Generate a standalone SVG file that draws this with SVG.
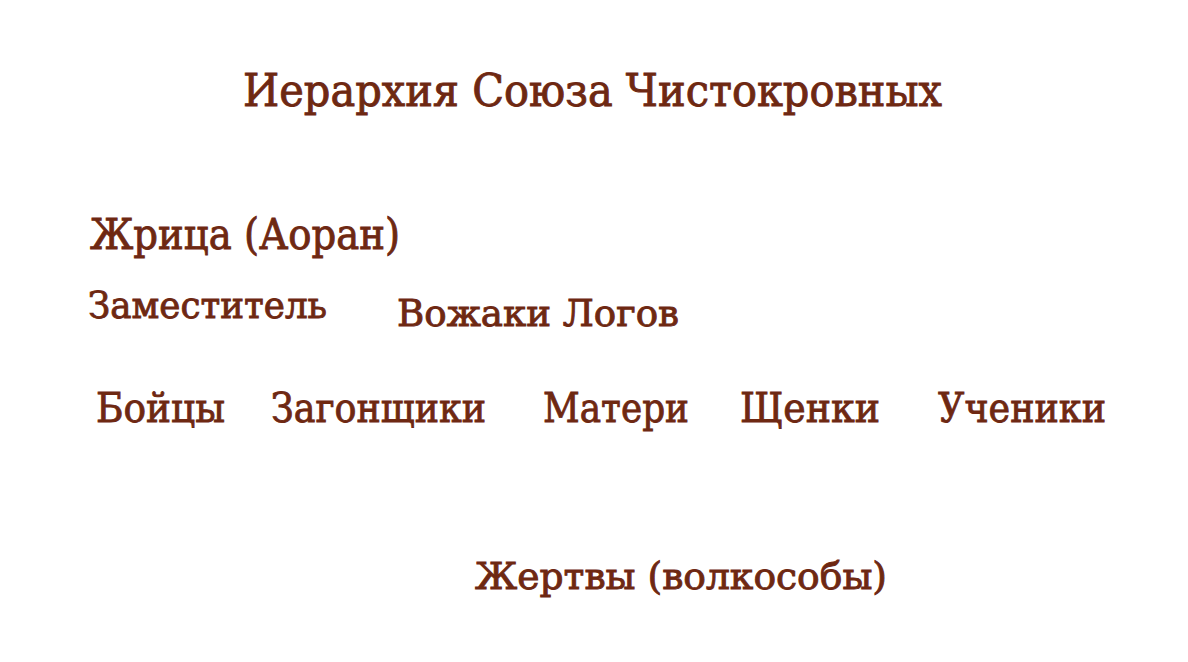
<svg xmlns="http://www.w3.org/2000/svg" width="1188" height="662" viewBox="0 0 1188 662">
<style>
.t{font-family:"DejaVu Serif","Liberation Serif",serif;fill:#6e2812;stroke:#6e2812;stroke-width:0.9;}
</style>
<rect width="1188" height="662" fill="#ffffff"/>
<g id="title"><text class="t" x="243" y="106" font-size="44" textLength="699" lengthAdjust="spacingAndGlyphs">Иерархия Союза Чистокровных</text></g>
<g id="node-priestess"><text class="t" x="90" y="249" font-size="42" textLength="310" lengthAdjust="spacingAndGlyphs">Жрица (Аоран)</text></g>
<g id="node-deputy"><text class="t" x="88" y="318" font-size="37" textLength="239" lengthAdjust="spacingAndGlyphs">Заместитель</text></g>
<g id="node-leaders"><text class="t" x="397" y="326" font-size="37" textLength="282" lengthAdjust="spacingAndGlyphs">Вожаки Логов</text></g>
<g id="node-fighters"><text class="t" x="96" y="422" font-size="41" textLength="129" lengthAdjust="spacingAndGlyphs">Бойцы</text></g>
<g id="node-hunters"><text class="t" x="271" y="422" font-size="41" textLength="215" lengthAdjust="spacingAndGlyphs">Загонщики</text></g>
<g id="node-mothers"><text class="t" x="543" y="422" font-size="41" textLength="146" lengthAdjust="spacingAndGlyphs">Матери</text></g>
<g id="node-pups"><text class="t" x="740" y="422" font-size="41" textLength="140" lengthAdjust="spacingAndGlyphs">Щенки</text></g>
<g id="node-students"><text class="t" x="938" y="422" font-size="41" textLength="168" lengthAdjust="spacingAndGlyphs">Ученики</text></g>
<g id="node-victims"><text class="t" x="475" y="589" font-size="37" textLength="412" lengthAdjust="spacingAndGlyphs">Жертвы (волкособы)</text></g>
<g id="connectors"></g>
</svg>
